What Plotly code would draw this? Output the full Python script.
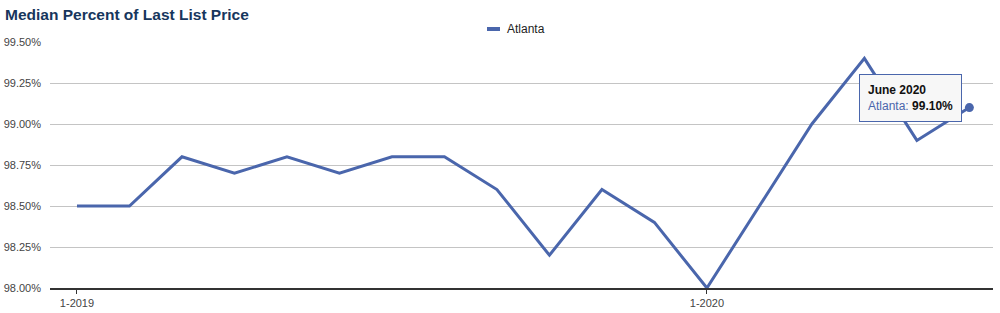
import plotly.graph_objects as go

months = ["January 2019", "February 2019", "March 2019", "April 2019", "May 2019", "June 2019",
          "July 2019", "August 2019", "September 2019", "October 2019", "November 2019", "December 2019",
          "January 2020", "February 2020", "March 2020", "April 2020", "May 2020", "June 2020"]
atlanta = [98.5, 98.5, 98.8, 98.7, 98.8, 98.7, 98.8, 98.8, 98.6, 98.2, 98.6, 98.4,
           98.0, 98.5, 99.0, 99.4, 98.9, 99.1]
tick_labels = ["1-2019", "1-2020"]
tick_idx = [0, 12]
y_ticks = [98.0, 98.25, 98.5, 98.75, 99.0, 99.25, 99.5]
series_name = "Atlanta"

line_color = "#4a66ac"
font_family = "Arial, Liberation Sans, sans-serif"
x = list(range(len(months)))

fig = go.Figure()
fig.add_trace(go.Scatter(x=x, y=atlanta, mode="lines", name=series_name, showlegend=False,
                         line=dict(color=line_color, width=3)))
fig.add_trace(go.Scatter(x=[x[-1]], y=[atlanta[-1]], mode="markers", showlegend=False,
                         marker=dict(color=line_color, size=9)))

# tooltip-like box
fig.add_annotation(x=15.87, y=99.16, xref="x", yref="y", showarrow=False,
                   text=f"<b>{months[-1]}</b><br>"
                        f"<span style='color:{line_color}'>{series_name}:</span> <b>{atlanta[-1]:.2f}%</b>",
                   align="left", xanchor="center", yanchor="middle",
                   bgcolor="#f7f7f7", bordercolor=line_color, borderwidth=1, borderpad=8,
                   font=dict(family=font_family, size=12, color="#111"))

# manual legend (short line symbol)
fig.add_shape(type="line", xref="paper", yref="paper", x0=0.4634, x1=0.4772, y0=1.0528, y1=1.0528,
              line=dict(color=line_color, width=4))
fig.add_annotation(x=0.4825, y=1.0528, xref="paper", yref="paper", showarrow=False,
                   text=series_name, xanchor="left", yanchor="middle",
                   font=dict(family=font_family, size=12, color="#222"))

fig.update_layout(
    width=1000, height=313,
    margin=dict(l=50, r=7, t=42, b=25, autoexpand=False),
    paper_bgcolor="white", plot_bgcolor="white",
    showlegend=False,
    title=dict(text="<b>Median Percent of Last List Price</b>", x=0.005, xanchor="left",
               xref="container", yref="container",
               y=0.955, yanchor="middle",
               font=dict(family=font_family, size=15.5, color="#17365d")),
    xaxis=dict(range=[-0.514, 17.45], tickmode="array", tickvals=tick_idx, ticktext=tick_labels,
               showgrid=False, zeroline=False, showline=True, linecolor="#333", linewidth=1.5,
               ticks="outside", ticklen=4, tickcolor="#333", automargin=False,
               tickfont=dict(family=font_family, size=11, color="#444")),
    yaxis=dict(range=[98.0, 99.5], tickmode="array", tickvals=y_ticks,
               ticktext=[f"{v:.2f}%" for v in y_ticks], automargin=False,
               showgrid=True, gridcolor="#c4c4c4", gridwidth=1, zeroline=False,
               ticks="", ticklabelstandoff=8,
               tickfont=dict(family=font_family, size=11, color="#444")),
)

fig.write_html("out.html")
